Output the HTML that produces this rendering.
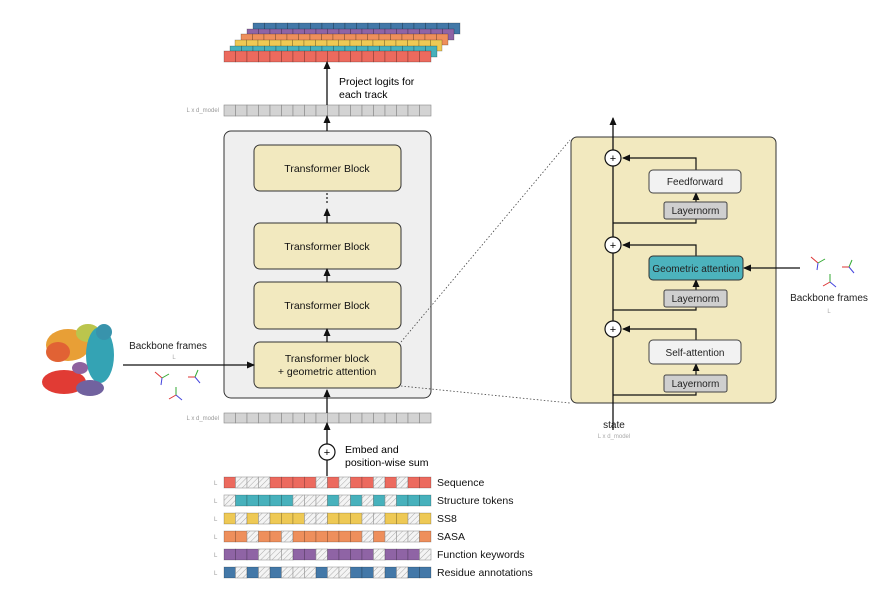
<!DOCTYPE html>
<html><head><meta charset="utf-8"><style>
html,body{margin:0;padding:0;background:#fff}
svg{display:block;font-family:"Liberation Sans",sans-serif}
</style></head><body>
<svg id="s" width="891" height="605" viewBox="0 0 891 605" xmlns="http://www.w3.org/2000/svg">
<defs>
<pattern id="h" width="4" height="4" patternUnits="userSpaceOnUse" patternTransform="rotate(45)">
<rect width="4" height="4" fill="#f4f4f4"/><line x1="0" y1="0" x2="0" y2="4" stroke="#999" stroke-width="0.8"/></pattern>
<marker id="a" markerWidth="8" markerHeight="8" refX="7" refY="4" orient="auto" markerUnits="userSpaceOnUse"><path d="M0,0.5 L8,4 L0,7.5z" fill="#111"/></marker>
</defs>
<g id="g"></g>
<rect x="224" y="131" width="207" height="267" rx="7" fill="#efefef" stroke="#333" stroke-width="1"/>
<g fill="#f2e9bf" stroke="#333" stroke-width="1">
<rect x="254" y="145" width="147" height="46" rx="6"/>
<rect x="254" y="223" width="147" height="46" rx="6"/>
<rect x="254" y="282" width="147" height="47" rx="6"/>
<rect x="254" y="342" width="147" height="46" rx="6"/>
</g>
<g font-size="10.5" text-anchor="middle" fill="#111">
<text x="327" y="172">Transformer Block</text>
<text x="327" y="250">Transformer Block</text>
<text x="327" y="309">Transformer Block</text>
<text x="327" y="362">Transformer block</text>
<text x="327" y="375">+ geometric attention</text>
</g>
<g fill="#111"><circle cx="327" cy="194" r="0.9"/><circle cx="327" cy="198" r="0.9"/><circle cx="327" cy="202" r="0.9"/></g>
<g stroke="#111" stroke-width="1.3" marker-end="url(#a)">
<line x1="327" y1="223" x2="327" y2="209"/>
<line x1="327" y1="282" x2="327" y2="269"/>
<line x1="327" y1="342" x2="327" y2="329"/>
<line x1="327" y1="413" x2="327" y2="390"/>
<line x1="327" y1="131" x2="327" y2="116"/>
<line x1="327" y1="105" x2="327" y2="62"/>
<line x1="327" y1="444" x2="327" y2="423"/>
<line x1="123" y1="365" x2="254" y2="365"/>
</g>
<line x1="327" y1="476" x2="327" y2="460" stroke="#111" stroke-width="1.3"/>
<circle cx="327" cy="452" r="8" fill="#fff" stroke="#111" stroke-width="1.2"/>
<text x="327" y="456" font-size="11" text-anchor="middle">+</text>
<text x="339" y="85" font-size="10.5">Project logits for</text>
<text x="339" y="98" font-size="10.5">each track</text>
<text x="345" y="453" font-size="10.5">Embed and</text>
<text x="345" y="466" font-size="10.5">position-wise sum</text>
<g font-size="6" fill="#999" text-anchor="end">
<text x="219" y="112">L x d_model</text>
<text x="219" y="420">L x d_model</text>
</g>
<g font-size="10.5" fill="#111" id="lbl"></g>
<g stroke="#444" stroke-width="0.8" stroke-dasharray="1.5,2" fill="none">
<line x1="401" y1="342" x2="570" y2="140"/>
<line x1="401" y1="386" x2="570" y2="403"/>
</g>
<rect x="571" y="137" width="205" height="266" rx="6" fill="#f2e9bf" stroke="#333"/>
<line x1="613" y1="430" x2="613" y2="118" stroke="#111" stroke-width="1.3" marker-end="url(#a)"/>
<g stroke="#111" stroke-width="1.2" fill="none">
<polyline points="613,223 696,223 696,219"/>
<polyline points="613,310 696,310 696,307"/>
<polyline points="613,395 696,395 696,392"/>
</g>
<g stroke="#111" stroke-width="1.2" marker-end="url(#a)" fill="none">
<line x1="696" y1="202" x2="696" y2="193"/>
<line x1="696" y1="290" x2="696" y2="280"/>
<line x1="696" y1="375" x2="696" y2="364"/>
<polyline points="696,170 696,158 623,158"/>
<polyline points="696,256 696,245 623,245"/>
<polyline points="696,340 696,329 623,329"/>
<line x1="800" y1="268" x2="744" y2="268"/>
</g>
<g fill="#fff" stroke="#111" stroke-width="1.2">
<circle cx="613" cy="158" r="8"/><circle cx="613" cy="245" r="8"/><circle cx="613" cy="329" r="8"/>
</g>
<g font-size="11" text-anchor="middle"><text x="613" y="162">+</text><text x="613" y="249">+</text><text x="613" y="333">+</text></g>
<rect x="649" y="170" width="92" height="23" rx="4" fill="#f2f2f2" stroke="#444"/>
<rect x="664" y="202" width="63" height="17" rx="2" fill="#cfcfcf" stroke="#444"/>
<rect x="649" y="256" width="94" height="24" rx="4" fill="#4cb3bd" stroke="#333"/>
<rect x="664" y="290" width="63" height="17" rx="2" fill="#cfcfcf" stroke="#444"/>
<rect x="649" y="340" width="92" height="24" rx="4" fill="#f2f2f2" stroke="#444"/>
<rect x="664" y="375" width="63" height="17" rx="2" fill="#cfcfcf" stroke="#444"/>
<g font-size="10" text-anchor="middle" fill="#222">
<text x="695" y="185">Feedforward</text>
<text x="695.5" y="214">Layernorm</text>
<text x="696" y="272">Geometric attention</text>
<text x="695.5" y="302">Layernorm</text>
<text x="695" y="356">Self-attention</text>
<text x="695.5" y="387">Layernorm</text>
<text x="614" y="428">state</text>
<text x="829" y="301">Backbone frames</text>
<text x="168" y="349">Backbone frames</text>
</g>
<g font-size="6" fill="#aaa" text-anchor="middle">
<text x="614" y="438">L x d_model</text>
<text x="829" y="313">L</text>
<text x="174" y="359">L</text>
</g>
<g stroke-width="1">
<g transform="translate(162,378)"><line x1="0" y1="0" x2="-7" y2="-6" stroke="#d33"/><line x1="0" y1="0" x2="7" y2="-4" stroke="#3a3"/><line x1="0" y1="0" x2="-1" y2="7" stroke="#44d"/></g>
<g transform="translate(195,377)"><line x1="0" y1="0" x2="-7" y2="0" stroke="#d33"/><line x1="0" y1="0" x2="3" y2="-7" stroke="#3a3"/><line x1="0" y1="0" x2="5" y2="6" stroke="#44d"/></g>
<g transform="translate(176,395)"><line x1="0" y1="0" x2="-7" y2="4" stroke="#d33"/><line x1="0" y1="0" x2="0" y2="-8" stroke="#3a3"/><line x1="0" y1="0" x2="6" y2="5" stroke="#44d"/></g>
<g transform="translate(818,263)"><line x1="0" y1="0" x2="-7" y2="-6" stroke="#d33"/><line x1="0" y1="0" x2="7" y2="-4" stroke="#3a3"/><line x1="0" y1="0" x2="-1" y2="7" stroke="#44d"/></g>
<g transform="translate(849,267)"><line x1="0" y1="0" x2="-7" y2="0" stroke="#d33"/><line x1="0" y1="0" x2="3" y2="-7" stroke="#3a3"/><line x1="0" y1="0" x2="5" y2="6" stroke="#44d"/></g>
<g transform="translate(830,282)"><line x1="0" y1="0" x2="-7" y2="4" stroke="#d33"/><line x1="0" y1="0" x2="0" y2="-8" stroke="#3a3"/><line x1="0" y1="0" x2="6" y2="5" stroke="#44d"/></g>
</g>
<g opacity="0.95">
<ellipse cx="68" cy="345" rx="22" ry="16" fill="#e79a2c"/>
<ellipse cx="58" cy="352" rx="12" ry="10" fill="#e05a2a"/>
<ellipse cx="88" cy="333" rx="12" ry="9" fill="#b8c244"/>
<ellipse cx="100" cy="355" rx="14" ry="28" fill="#2a9fb0"/>
<ellipse cx="104" cy="332" rx="8" ry="8" fill="#2e8ea8"/>
<ellipse cx="64" cy="382" rx="22" ry="12" fill="#e0312a"/>
<ellipse cx="90" cy="388" rx="14" ry="8" fill="#6a5a9a"/>
<ellipse cx="80" cy="368" rx="8" ry="6" fill="#8a5a9a"/>
</g>
<script>
var s=document.getElementById('g'),ns="http://www.w3.org/2000/svg";
function R(x,y,w,h,f){var r=document.createElementNS(ns,'rect');r.setAttribute('x',x);r.setAttribute('y',y);r.setAttribute('width',w);r.setAttribute('height',h);r.setAttribute('fill',f);r.setAttribute('stroke','#fff');r.setAttribute('stroke-width','0.6');s.appendChild(r);}
var cw=207/18;
var stack=[['#4378a8',253,23],['#8f64a5',247,29],['#ee8f5c',241,34],['#eec955',235,40],['#47b1bc',230,46],['#ec6a5e',224,51]];
stack.forEach(function(t){for(var i=0;i<18;i++){R(t[1]+i*cw,t[2],cw,11,t[0]);s.lastChild.setAttribute('stroke','rgba(0,0,0,0.35)');}});
for(var i=0;i<18;i++){R(224+i*cw,105,cw,11,'#d3d3d3');s.lastChild.setAttribute('stroke','#888');R(224+i*cw,413,cw,10,'#d3d3d3');s.lastChild.setAttribute('stroke','#888');}
var tr=[['#ec6a5e','CHHHCCCCHCHCCHCHCC','Sequence'],['#47b1bc','HCCCCCHHHCHCHCHCCC','Structure tokens'],['#eec955','CHCHCCCHHCCCHHCCHC','SS8'],['#ee8f5c','CCHCCHCCCCCCHCHHHC','SASA'],['#8f64a5','CCCHHHCCHCCCCHCCCH','Function keywords'],['#4378a8','CHCHCHHHCHHCCHCHCC','Residue annotations']];
var lb=document.getElementById('lbl');
tr.forEach(function(t,k){var y=477+k*18;for(var i=0;i<18;i++){var c=t[1][i]=='C'?t[0]:'url(#h)';R(224+i*cw,y,cw,11,c);s.lastChild.setAttribute('stroke',c=='url(#h)'?'#999':'rgba(0,0,0,0.3)');}
var tx=document.createElementNS(ns,'text');tx.setAttribute('x',437);tx.setAttribute('y',y+9);tx.textContent=t[2];lb.appendChild(tx);
var l=document.createElementNS(ns,'text');l.setAttribute('x',214);l.setAttribute('y',y+8);l.setAttribute('font-size','6');l.setAttribute('fill','#999');l.textContent='L';lb.appendChild(l);});
</script>
</svg>
</body></html>
